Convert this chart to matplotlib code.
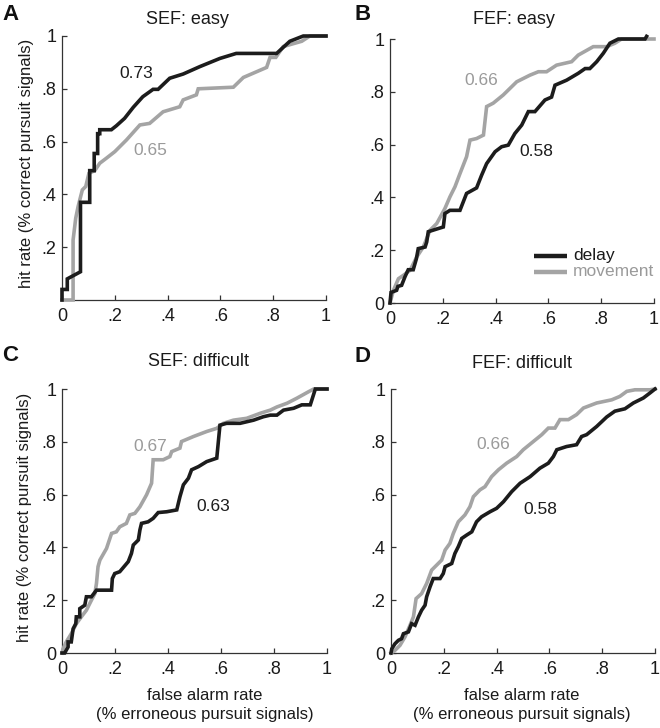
import matplotlib
matplotlib.use("Agg")
import matplotlib.pyplot as plt

plt.rcParams['font.family'] = ['Liberation Sans', 'DejaVu Sans']

W, H = 660, 728

# ---------------- data ----------------
sef_easy_delay_x = [0, 0, 0.02, 0.02, 0.07, 0.07, 0.105, 0.105, 0.122, 0.122, 0.135, 0.135, 0.143, 0.143,
                    0.187, 0.206, 0.237, 0.27, 0.306, 0.345, 0.364, 0.408, 0.459, 0.522, 0.598, 0.66,
                    0.813, 0.863, 0.914, 1.0]
sef_easy_delay_y = [0, 0.04, 0.04, 0.08, 0.107, 0.37, 0.37, 0.49, 0.49, 0.555, 0.555, 0.63, 0.63, 0.645,
                    0.645, 0.66, 0.688, 0.73, 0.77, 0.798, 0.798, 0.84, 0.856, 0.884, 0.915, 0.934,
                    0.934, 0.98, 1.0, 1.0]
sef_easy_move_x = [0, 0.042, 0.042, 0.052, 0.061, 0.077, 0.09, 0.102, 0.124, 0.143, 0.168, 0.2, 0.244,
                   0.295, 0.332, 0.383, 0.446, 0.459, 0.509, 0.516, 0.649, 0.687, 0.775, 0.788, 0.81,
                   0.838, 0.908, 0.939, 1.0]
sef_easy_move_y = [0, 0, 0.227, 0.31, 0.354, 0.417, 0.43, 0.48, 0.49, 0.518, 0.537, 0.562, 0.606,
                   0.663, 0.669, 0.713, 0.732, 0.758, 0.777, 0.80, 0.806, 0.843, 0.881, 0.919, 0.919,
                   0.96, 0.98, 1.0, 1.0]

fef_easy_delay_x = [0, 0.004, 0.025, 0.03, 0.044, 0.057, 0.069, 0.088, 0.1, 0.107, 0.133, 0.139, 0.145,
                    0.17, 0.202, 0.208, 0.227, 0.265, 0.29, 0.328, 0.347, 0.366, 0.398, 0.423, 0.448,
                    0.473, 0.499, 0.524, 0.549, 0.587, 0.612, 0.625, 0.669, 0.713, 0.739, 0.757, 0.783,
                    0.808, 0.833, 0.865, 0.966, 0.972]
fef_easy_delay_y = [0, 0.04, 0.048, 0.063, 0.067, 0.1, 0.126, 0.126, 0.168, 0.206, 0.212, 0.231, 0.27,
                    0.278, 0.288, 0.339, 0.351, 0.351, 0.415, 0.436, 0.484, 0.528, 0.573, 0.592, 0.598,
                    0.642, 0.674, 0.725, 0.725, 0.769, 0.78, 0.825, 0.844, 0.87, 0.888, 0.888, 0.914,
                    0.946, 0.984, 1.0, 1.0, 1.01]
fef_easy_move_x = [0, 0.013, 0.032, 0.051, 0.076, 0.101, 0.126, 0.152, 0.177, 0.208, 0.227, 0.246,
                   0.265, 0.29, 0.303, 0.328, 0.354, 0.366, 0.391, 0.429, 0.48, 0.53, 0.562, 0.593,
                   0.631, 0.688, 0.713, 0.77, 0.821, 0.852, 0.877, 1.0]
fef_easy_move_y = [0, 0.048, 0.092, 0.105, 0.124, 0.174, 0.212, 0.276, 0.301, 0.358, 0.402, 0.44,
                   0.49, 0.554, 0.617, 0.623, 0.636, 0.744, 0.757, 0.788, 0.838, 0.863, 0.876, 0.876,
                   0.901, 0.914, 0.939, 0.971, 0.971, 0.984, 1.0, 1.0]

sef_diff_delay_x = [0, 0.01, 0.023, 0.023, 0.035, 0.042, 0.052, 0.054, 0.067, 0.067, 0.086, 0.092,
                    0.111, 0.13, 0.187, 0.19, 0.199, 0.218, 0.25, 0.262, 0.269, 0.288, 0.294, 0.3,
                    0.325, 0.344, 0.363, 0.395, 0.433, 0.445, 0.458, 0.477, 0.489, 0.515, 0.546, 0.584,
                    0.596, 0.621, 0.672, 0.723, 0.76, 0.786, 0.811, 0.836, 0.874, 0.905, 0.937, 0.956, 1.0]
sef_diff_delay_y = [0, 0, 0.023, 0.042, 0.042, 0.092, 0.111, 0.137, 0.137, 0.168, 0.181, 0.213,
                    0.213, 0.238, 0.238, 0.282, 0.301, 0.308, 0.346, 0.377, 0.409, 0.428, 0.466, 0.491,
                    0.497, 0.51, 0.532, 0.535, 0.542, 0.592, 0.637, 0.662, 0.694, 0.706, 0.725, 0.738,
                    0.863, 0.87, 0.87, 0.882, 0.895, 0.901, 0.901, 0.92, 0.927, 0.94, 0.94, 1.0, 1.0]
sef_diff_move_x = [0, 0.004, 0.016, 0.035, 0.054, 0.073, 0.092, 0.111, 0.124, 0.13, 0.136, 0.143,
                   0.168, 0.187, 0.205, 0.218, 0.243, 0.256, 0.275, 0.294, 0.319, 0.338, 0.344, 0.382,
                   0.407, 0.414, 0.445, 0.451, 0.496, 0.546, 0.584, 0.609, 0.647, 0.697, 0.748, 0.786,
                   0.811, 0.849, 0.886, 0.931, 0.95, 1.0]
sef_diff_move_y = [0, 0.016, 0.042, 0.073, 0.111, 0.137, 0.162, 0.2, 0.225, 0.263, 0.327, 0.352,
                   0.396, 0.453, 0.459, 0.478, 0.491, 0.523, 0.529, 0.554, 0.599, 0.643, 0.732, 0.732,
                   0.744, 0.763, 0.776, 0.801, 0.82, 0.839, 0.851, 0.87, 0.882, 0.889, 0.908, 0.92,
                   0.932, 0.946, 0.965, 0.99, 1.0, 1.0]

fef_diff_delay_x = [0, 0.003, 0.015, 0.028, 0.04, 0.047, 0.066, 0.078, 0.091, 0.104, 0.116, 0.129,
                    0.135, 0.148, 0.16, 0.186, 0.198, 0.205, 0.23, 0.242, 0.255, 0.268, 0.287, 0.306,
                    0.324, 0.343, 0.375, 0.4, 0.426, 0.457, 0.489, 0.527, 0.564, 0.596, 0.615, 0.628,
                    0.665, 0.703, 0.722, 0.741, 0.779, 0.817, 0.848, 0.886, 0.918, 0.956, 0.981, 1.0]
fef_diff_delay_y = [0, 0.016, 0.035, 0.048, 0.054, 0.073, 0.08, 0.111, 0.105, 0.137, 0.162, 0.181,
                    0.213, 0.251, 0.282, 0.282, 0.301, 0.327, 0.339, 0.377, 0.403, 0.434, 0.447, 0.459,
                    0.497, 0.516, 0.535, 0.548, 0.573, 0.611, 0.643, 0.668, 0.7, 0.719, 0.744, 0.77,
                    0.782, 0.789, 0.82, 0.827, 0.858, 0.894, 0.916, 0.925, 0.947, 0.966, 0.985, 1.0]
fef_diff_move_x = [0, 0.015, 0.034, 0.053, 0.072, 0.085, 0.095, 0.116, 0.135, 0.154, 0.173, 0.192,
                   0.205, 0.223, 0.236, 0.255, 0.28, 0.299, 0.312, 0.337, 0.356, 0.381, 0.407, 0.438,
                   0.476, 0.501, 0.539, 0.571, 0.596, 0.621, 0.64, 0.672, 0.703, 0.729, 0.779, 0.836,
                   0.867, 0.893, 0.924, 0.981, 1.0]
fef_diff_move_y = [0, 0.01, 0.029, 0.061, 0.105, 0.137, 0.206, 0.225, 0.263, 0.314, 0.333, 0.352,
                   0.39, 0.415, 0.453, 0.497, 0.523, 0.554, 0.592, 0.618, 0.63, 0.668, 0.694, 0.719,
                   0.744, 0.77, 0.801, 0.827, 0.852, 0.852, 0.884, 0.884, 0.903, 0.928, 0.947, 0.959,
                   0.972, 0.991, 0.997, 0.997, 1.0]

panel_letters = ["A", "B", "C", "D"]
panel_titles = ["SEF: easy", "FEF: easy", "SEF: difficult", "FEF: difficult"]
auc_delay = ["0.73", "0.58", "0.63", "0.58"]
auc_move = ["0.65", "0.66", "0.67", "0.66"]
tick_vals = [0, 0.2, 0.4, 0.6, 0.8, 1.0]
tick_labels = ["0", ".2", ".4", ".6", ".8", "1"]
legend_labels = ["delay", "movement"]

curves = [
    (sef_easy_delay_x, sef_easy_delay_y, sef_easy_move_x, sef_easy_move_y),
    (fef_easy_delay_x, fef_easy_delay_y, fef_easy_move_x, fef_easy_move_y),
    (sef_diff_delay_x, sef_diff_delay_y, sef_diff_move_x, sef_diff_move_y),
    (fef_diff_delay_x, fef_diff_delay_y, fef_diff_move_x, fef_diff_move_y),
]

# ---------------- layout ----------------
BLACK = "#1c1c1c"
GRAY = "#a4a4a4"
TXT_GRAY = "#9a9a9a"

boxes = [(62, 36, 326, 300), (390, 39, 654, 303), (62, 389, 327, 653), (391, 389, 655, 653)]
letter_pos = [(2, 15), (355, 15), (2, 355), (355, 356)]
title_pos = [(187, 20), (514, 20), (198, 362), (522, 363)]
delay_lab_pos = [(0.282, 0.859), (0.556, 0.573), (0.571, 0.554), (0.564, 0.542)]
move_lab_pos = [(0.335, 0.568), (0.347, 0.842), (0.332, 0.782), (0.388, 0.789)]


def fx(px):
    return px / W


def fy(py):
    return 1 - py / H


fig = plt.figure(figsize=(W / 100, H / 100), dpi=100)

for i, (x0, y0, x1, y1) in enumerate(boxes):
    ax = fig.add_axes([fx(x0), fy(y1), (x1 - x0) / W, (y1 - y0) / H])
    dx, dy, mx, my = curves[i]
    ax.plot(mx, my, color=GRAY, lw=2.6, clip_on=False, solid_joinstyle='miter', zorder=3)
    ax.plot(dx, dy, color=BLACK, lw=2.6, clip_on=False, solid_joinstyle='miter', zorder=4)
    ax.set_xlim(0, 1)
    ax.set_ylim(0, 1)
    for s in ["top", "right"]:
        ax.spines[s].set_visible(False)
    for s in ["left", "bottom"]:
        ax.spines[s].set_color("#333333")
        ax.spines[s].set_linewidth(0.9)
    ax.set_xticks(tick_vals)
    ax.set_xticklabels(tick_labels)
    if i == 0:
        ax.set_yticks(tick_vals[1:])
        ax.set_yticklabels(tick_labels[1:])
    else:
        ax.set_yticks(tick_vals)
        ax.set_yticklabels(tick_labels)
    ax.tick_params(axis='both', direction='in', length=3.5, width=0.9, color="#333333",
                   labelsize=13, labelcolor="#1a1a1a")
    ax.tick_params(axis='x', pad=6)
    ax.tick_params(axis='y', pad=4)
    ax.set_facecolor("none")

    ax.text(*delay_lab_pos[i], auc_delay[i], color=BLACK, fontsize=12.5, ha='center', va='center')
    ax.text(*move_lab_pos[i], auc_move[i], color=TXT_GRAY, fontsize=12.5, ha='center', va='center')

    fig.text(fx(letter_pos[i][0]), fy(letter_pos[i][1]), panel_letters[i], fontsize=16,
             fontweight='bold', ha='left', va='center', color="#111111")
    fig.text(fx(title_pos[i][0]), fy(title_pos[i][1]), panel_titles[i], fontsize=13,
             ha='center', va='center', color="#1a1a1a")

    if i == 1:
        # legend
        ax.plot([0.545, 0.669], [0.177, 0.177], color=BLACK, lw=3.2, solid_capstyle='butt')
        ax.plot([0.545, 0.669], [0.118, 0.118], color=GRAY, lw=3.2, solid_capstyle='butt')
        ax.text(0.694, 0.18, legend_labels[0], color="#1a1a1a", fontsize=12.5, va='center', ha='left')
        ax.text(0.694, 0.118, legend_labels[1], color=TXT_GRAY, fontsize=12.5, va='center', ha='left')

# y labels
for (xc, yc) in [(27, 163), (25, 517)]:
    fig.text(fx(xc), fy(yc), "hit rate (% correct pursuit signals)", rotation=90, fontsize=12,
             ha='center', va='center', color="#1a1a1a")
# x labels
for xc in [205, 522]:
    fig.text(fx(xc), fy(696), "false alarm rate", fontsize=12, ha='center', va='center', color="#1a1a1a")
    fig.text(fx(xc), fy(715), "(% erroneous pursuit signals)", fontsize=12, ha='center', va='center',
             color="#1a1a1a")

fig.savefig("out.png", dpi=100)
